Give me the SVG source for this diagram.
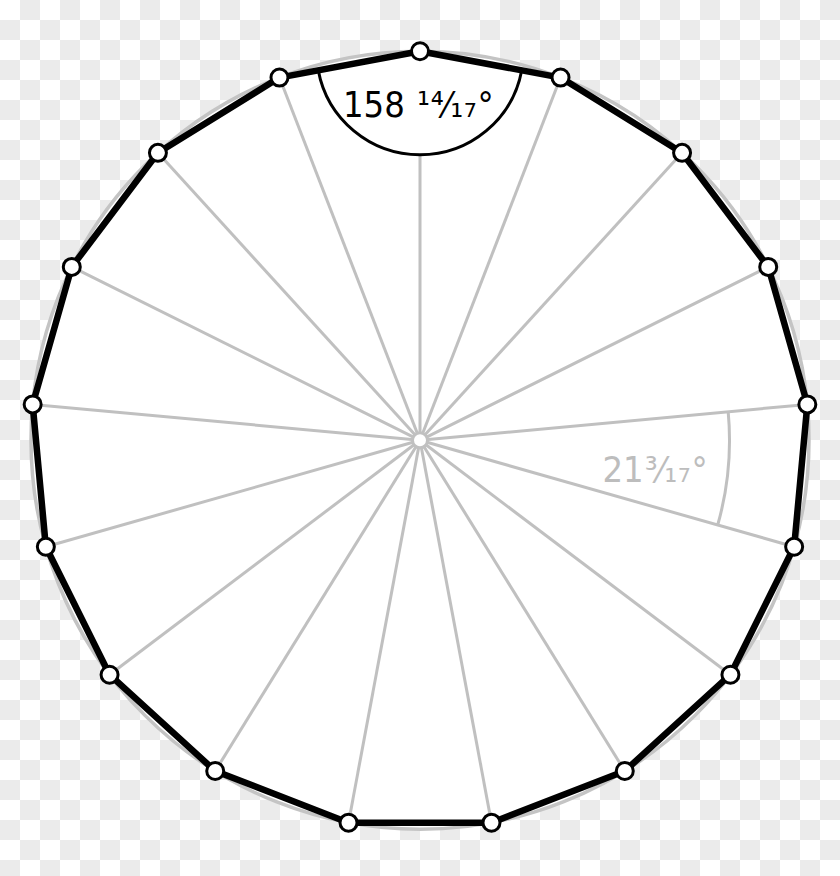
<svg xmlns="http://www.w3.org/2000/svg" width="840" height="876" viewBox="0 0 840 876">
<defs>
<pattern id="checker" width="40" height="40" patternUnits="userSpaceOnUse">
<rect width="40" height="40" fill="#ffffff"/>
<rect x="20" y="0" width="20" height="20" fill="#ebebeb"/>
<rect x="0" y="20" width="20" height="20" fill="#ebebeb"/>
</pattern>
<style>
.spoke{stroke:#c0c0c0;stroke-width:3;fill:none}
.edge{stroke:#000;stroke-width:6.5;fill:none;stroke-linejoin:round}
.vtx{fill:#fff;stroke:#000;stroke-width:3}
.lbl{font-family:"DejaVu Sans Condensed","DejaVu Sans",sans-serif;font-stretch:condensed;font-size:36px}
.frac{letter-spacing:0.6px}
</style>
</defs>
<rect width="840" height="876" fill="url(#checker)"/>
<circle id="circumcircle" cx="420" cy="440.3" r="389" fill="#fff" stroke="#c4c4c4" stroke-width="3.5"/>
<g id="connectors">
<g id="spokes" class="spoke">
<line x1="420" y1="440.3" x2="420" y2="51.3"/>
<line x1="420" y1="440.3" x2="560.52" y2="77.57"/>
<line x1="420" y1="440.3" x2="682.07" y2="152.83"/>
<line x1="420" y1="440.3" x2="768.22" y2="266.91"/>
<line x1="420" y1="440.3" x2="807.34" y2="404.41"/>
<line x1="420" y1="440.3" x2="794.15" y2="546.75"/>
<line x1="420" y1="440.3" x2="730.43" y2="674.72"/>
<line x1="420" y1="440.3" x2="624.78" y2="771.04"/>
<line x1="420" y1="440.3" x2="491.48" y2="822.68"/>
<line x1="420" y1="440.3" x2="348.52" y2="822.68"/>
<line x1="420" y1="440.3" x2="215.22" y2="771.04"/>
<line x1="420" y1="440.3" x2="109.57" y2="674.72"/>
<line x1="420" y1="440.3" x2="45.85" y2="546.75"/>
<line x1="420" y1="440.3" x2="32.66" y2="404.41"/>
<line x1="420" y1="440.3" x2="71.78" y2="266.91"/>
<line x1="420" y1="440.3" x2="157.93" y2="152.83"/>
<line x1="420" y1="440.3" x2="279.48" y2="77.57"/>
</g>
<g id="central-angle">
<path d="M 728.18 411.74 A 309.5 309.5 0 0 1 717.69 525.0" fill="none" stroke="#c0c0c0" stroke-width="3"/>
<text class="lbl" fill="#bdbdbd" x="602.5" y="482">21<tspan class="frac" dx="1">³⁄₁₇°</tspan></text>
</g>
<g id="interior-angle">
<path d="M 420 51.3 L 521.74 70.32 A 103.5 103.5 0 0 1 318.26 70.32 Z" fill="#fff" stroke="none"/>
<path d="M 521.74 70.32 A 103.5 103.5 0 0 1 318.26 70.32" fill="none" stroke="#000" stroke-width="3"/>
<text class="lbl" fill="#000" x="343" y="117">158 <tspan class="frac" dx="2">¹⁴⁄₁₇°</tspan></text>
</g>
<polygon id="edges" class="edge" points="420,51.3 560.52,77.57 682.07,152.83 768.22,266.91 807.34,404.41 794.15,546.75 730.43,674.72 624.78,771.04 491.48,822.68 348.52,822.68 215.22,771.04 109.57,674.72 45.85,546.75 32.66,404.41 71.78,266.91 157.93,152.83 279.48,77.57"/>
</g>
<g id="center"><circle cx="420" cy="440.3" r="7.5" fill="#fff" stroke="#c0c0c0" stroke-width="3"/></g>
<g id="v0"><circle class="vtx" cx="420" cy="51.3" r="8.5"/></g>
<g id="v1"><circle class="vtx" cx="560.52" cy="77.57" r="8.5"/></g>
<g id="v2"><circle class="vtx" cx="682.07" cy="152.83" r="8.5"/></g>
<g id="v3"><circle class="vtx" cx="768.22" cy="266.91" r="8.5"/></g>
<g id="v4"><circle class="vtx" cx="807.34" cy="404.41" r="8.5"/></g>
<g id="v5"><circle class="vtx" cx="794.15" cy="546.75" r="8.5"/></g>
<g id="v6"><circle class="vtx" cx="730.43" cy="674.72" r="8.5"/></g>
<g id="v7"><circle class="vtx" cx="624.78" cy="771.04" r="8.5"/></g>
<g id="v8"><circle class="vtx" cx="491.48" cy="822.68" r="8.5"/></g>
<g id="v9"><circle class="vtx" cx="348.52" cy="822.68" r="8.5"/></g>
<g id="v10"><circle class="vtx" cx="215.22" cy="771.04" r="8.5"/></g>
<g id="v11"><circle class="vtx" cx="109.57" cy="674.72" r="8.5"/></g>
<g id="v12"><circle class="vtx" cx="45.85" cy="546.75" r="8.5"/></g>
<g id="v13"><circle class="vtx" cx="32.66" cy="404.41" r="8.5"/></g>
<g id="v14"><circle class="vtx" cx="71.78" cy="266.91" r="8.5"/></g>
<g id="v15"><circle class="vtx" cx="157.93" cy="152.83" r="8.5"/></g>
<g id="v16"><circle class="vtx" cx="279.48" cy="77.57" r="8.5"/></g>
</svg>
